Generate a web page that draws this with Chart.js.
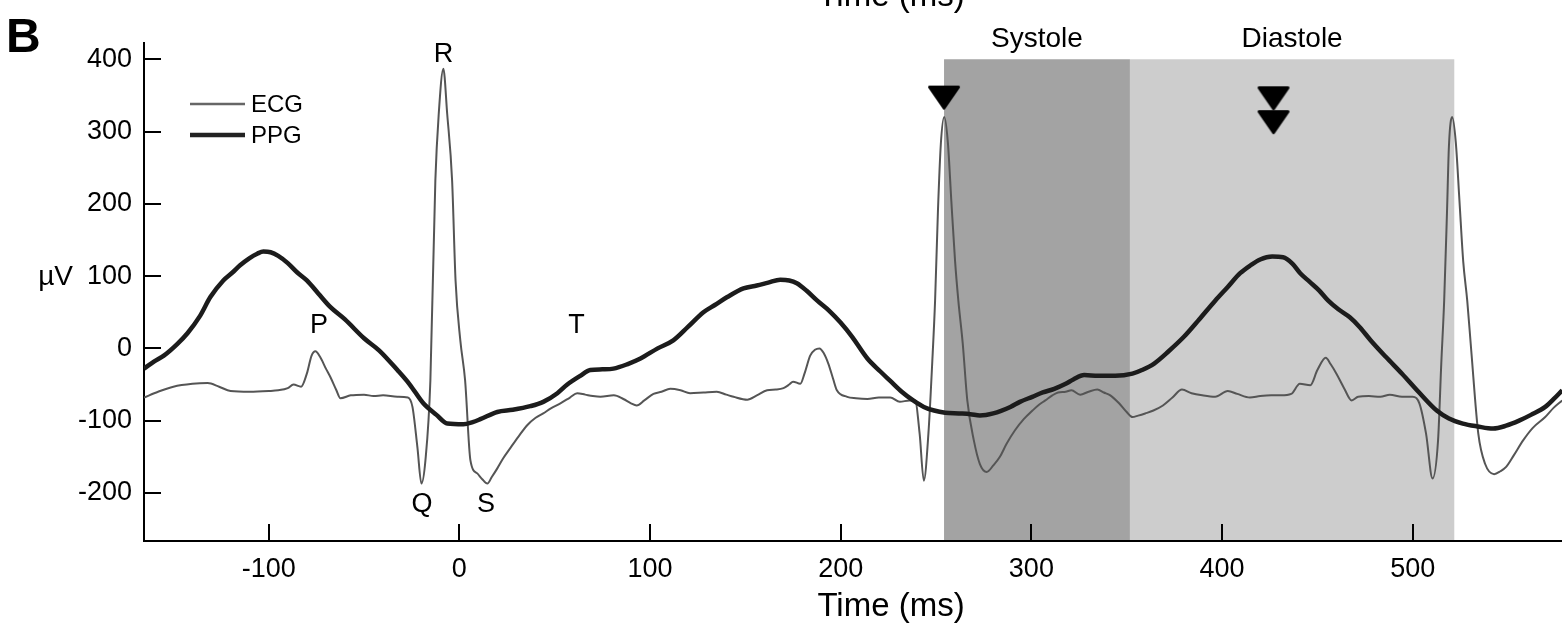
<!DOCTYPE html>
<html>
<head>
<meta charset="utf-8">
<script src="https://cdn.jsdelivr.net/npm/chart.js@4.4.1/dist/chart.umd.min.js"></script>
<style>
  html, body { margin: 0; padding: 0; background: #ffffff; overflow: hidden; }
  #c { display: block; }
</style>
</head>
<body>
<canvas id="c" width="1562" height="625"></canvas>
<script>
// ---------------- data ----------------
const xTicks = [-100, 0, 100, 200, 300, 400, 500];
const yTicks = [-200, -100, 0, 100, 200, 300, 400];

const ecgTime = [-165.4,-158,-150,-140,-132,-126,-120,-110,-100,-95,-90,-87,-83,-80,-77.5,-75.5,-73,-70,-67.6,-64.5,-62.4,-57,-50,-45,-40,-32.5,-27,-24.6,-22,-19.9,-17.8,-15.2,-12.6,-10.8,-8.4,-6.4,-3.8,-2,0.5,3,5.8,9.4,12,14.7,17,19.9,23,26.7,31,35.7,40,44,48,53,58,61.8,66,70,74,81,86,90,93,97,101.8,106,110.6,116,121,128,135,140,143.8,151,156,161.4,166,170,173,175,178.8,181,184,186.5,188.8,191,193.5,196,198,203.4,208,214,220,226,231,236,239,241.4,243.6,246,248,249.5,251,252.5,254.3,256.2,258,260,261.7,264,266.4,269.8,273,276.6,280,283.5,287,291.5,296,300.6,304,307.3,311,314,318,321,325.6,330,334.6,338,341.4,346,350,353,356,359.7,364,369,374,379,384,389.6,396.4,403,408,414.6,420,425.8,431,436.3,440.8,446.3,450,454.4,457,460,464,468,471.4,477,483,488,494.4,500,503.5,507,510.4,513.3,515,516.5,518,519,520.7,522.6,524.5,526.5,528.6,530.7,534.4,538,542.7,546,549,553,558,563,569.5,574,578.4];
const ecgValue = [-68,-60,-53,-49,-48,-53,-59,-60,-59,-58,-55,-50,-53,-35,-10,-4,-12,-28,-40,-58,-69,-65,-64,-66,-65,-67,-68,-81,-137,-187,-155,-44,232,325,387,325,232,94,11,-44,-155,-173,-181,-187,-178,-166,-152,-138,-122,-106,-96,-90,-83,-76,-68,-62,-64,-66,-67,-65,-70,-76,-79,-72,-63,-60,-56,-58,-62,-61,-60,-64,-67,-71,-65,-58,-57,-55,-50,-46,-49,-35,-10,-2,0,-6,-21,-42,-58,-67,-69,-70,-68,-68,-74,-72,-72,-118,-183,-118,-20,66,190,282,320,285,205,120,66,7,-72,-127,-160,-171,-162,-150,-132,-113,-98,-86,-78,-72,-65,-61,-60,-58,-64,-60,-57,-61,-65,-76,-88,-95,-93,-90,-86,-79,-68,-57,-62,-65,-67,-59,-63,-68,-66,-65,-65,-63,-49,-51,-30,-13,-22,-35,-55,-72,-67,-66,-67,-64,-67,-67,-76,-118,-180,-127,-20,66,190,280,320,285,205,120,66,-3,-118,-160,-174,-170,-164,-148,-127,-110,-95,-82,-72];

const ppgTime = [-165.4,-160,-155,-148,-142.6,-136,-130.6,-123.8,-119,-115,-110,-106,-102.8,-99,-95,-90,-85,-80,-74,-67.6,-60,-50,-42,-32.5,-26,-18.9,-12,-6.3,2.1,7,11,19.9,28,37.2,44,51.4,56.6,63.4,68.7,75,80.8,88,95,104,112.2,120,128,134,140.5,149,156,162,168.3,173,177,182,187.7,194,199.8,206,214,220.8,226,232,238,243.6,249,254.8,262,268,273,280,289,294,300.5,306,312,318,322,327.7,335,344,353,358,364.4,372,380,388,396.4,403,409.5,415,420,426.3,432,437,441,446,451,455.7,461,467,472,478,486,494.4,503,512.6,519,526.3,534,542.2,549,555.8,562,569.5,574,578.4];
const ppgValue = [-28,-18,-10,6,21,45,71,94,105,115,125,131,134,133,128,118,105,94,76,57,40,14,-3,-30,-50,-76,-92,-104,-105,-102,-98,-88,-85,-80,-74,-62,-50,-38,-30,-29,-28,-22,-14,0,11,30,50,60,71,83,87,91,95,94,90,80,66,52,36,16,-14,-32,-45,-60,-72,-81,-86,-89,-90,-91,-93,-90,-81,-74,-67,-61,-56,-49,-43,-37,-38,-38,-35,-30,-21,-4,16,40,66,85,104,115,123,127,126,117,104,92,80,66,54,43,30,11,-12,-35,-60,-86,-97,-104,-108,-111,-107,-100,-92,-81,-70,-58];

const markerTime  = [254.2, 427, 427];
const markerValue = [347, 346, 313];

const phaseNames = ['Systole', 'Diastole'];
const phaseStart = [254.2, 351.7];
const phaseEnd   = [351.7, 521.8];
const phaseTop   = 400;

const waveLabels = ['P', 'Q', 'R', 'S', 'T'];
const waveTime   = [-73.6, -19.6, -8.3, 14, 61.4];
const waveValue  = [35.8, -213, 409.4, -213, 35.8];

// ---------------- styles ----------------
const FONT = '"Liberation Sans", Arial, Helvetica, sans-serif';
const ECG_COLOR = '#555555';
const PPG_COLOR = '#1c1c1c';
const PHASE_COLORS = ['#a3a3a3', '#cdcdcd'];

// triangle marker image
const tri = document.createElement('canvas');
tri.width = 34; tri.height = 26;
(function () {
  const g = tri.getContext('2d');
  g.fillStyle = '#000'; g.strokeStyle = '#000';
  g.lineWidth = 3; g.lineJoin = 'round';
  g.beginPath();
  g.moveTo(2.5, 2.5); g.lineTo(31.5, 2.5); g.lineTo(17, 23.5); g.closePath();
  g.fill(); g.stroke();
})();

const overlay = {
  id: 'overlay',
  beforeDatasetsDraw(chart) {
    const { ctx, chartArea } = chart;
    const xs = chart.scales.x, ys = chart.scales.y;
    ctx.save();
    for (let i = 0; i < phaseNames.length; i++) {
      const x0 = xs.getPixelForValue(phaseStart[i]);
      const x1 = xs.getPixelForValue(phaseEnd[i]);
      const y0 = ys.getPixelForValue(phaseTop);
      ctx.fillStyle = PHASE_COLORS[i];
      ctx.fillRect(x0, y0, x1 - x0, chartArea.bottom - 1 - y0);
    }
    ctx.restore();
  },
  afterDraw(chart) {
    const { ctx, chartArea } = chart;
    const xs = chart.scales.x, ys = chart.scales.y;
    ctx.save();
    // inward ticks
    ctx.strokeStyle = '#000'; ctx.lineWidth = 2;
    xTicks.forEach(v => {
      const px = Math.round(xs.getPixelForValue(v));
      ctx.beginPath(); ctx.moveTo(px, chartArea.bottom); ctx.lineTo(px, chartArea.bottom - 17); ctx.stroke();
    });
    yTicks.forEach(v => {
      const py = Math.round(ys.getPixelForValue(v));
      ctx.beginPath(); ctx.moveTo(chartArea.left, py); ctx.lineTo(chartArea.left + 17, py); ctx.stroke();
    });
    ctx.fillStyle = '#000';
    // phase names
    ctx.font = '28px ' + FONT; ctx.textAlign = 'center'; ctx.textBaseline = 'alphabetic';
    for (let i = 0; i < phaseNames.length; i++) {
      const cx = (xs.getPixelForValue(phaseStart[i]) + xs.getPixelForValue(phaseEnd[i])) / 2;
      ctx.fillText(phaseNames[i], cx, 47);
    }
    // wave labels
    ctx.font = '27px ' + FONT;
    for (let i = 0; i < waveLabels.length; i++) {
      ctx.fillText(waveLabels[i], xs.getPixelForValue(waveTime[i]), ys.getPixelForValue(waveValue[i]) + 10);
    }
    // y unit
    ctx.font = '28px ' + FONT;
    ctx.textAlign = 'right'; ctx.textBaseline = 'middle';
    ctx.fillText('\u00B5V', 73, ys.getPixelForValue(100) + 1);
    // legend
    ctx.lineCap = 'butt';
    ctx.strokeStyle = '#666666'; ctx.lineWidth = 2.5;
    ctx.beginPath(); ctx.moveTo(190, 104); ctx.lineTo(245, 104); ctx.stroke();
    ctx.strokeStyle = '#222222'; ctx.lineWidth = 4.5;
    ctx.beginPath(); ctx.moveTo(190, 135); ctx.lineTo(245, 135); ctx.stroke();
    ctx.font = '24px ' + FONT; ctx.textAlign = 'left'; ctx.textBaseline = 'middle';
    ctx.fillText('ECG', 251, 105);
    ctx.fillText('PPG', 251, 136);
    // panel letter
    ctx.font = 'bold 48px ' + FONT; ctx.textBaseline = 'alphabetic';
    ctx.fillText('B', 6, 52);
    // axis titles (bottom + cut-off one from panel above)
    ctx.font = '33px ' + FONT; ctx.textAlign = 'center';
    ctx.fillText('Time (ms)', 891, 616);
    ctx.fillText('Time (ms)', 891, 6);
    ctx.restore();
  }
};

const tickFont = { family: FONT, size: 27 };

new Chart(document.getElementById('c'), {
  type: 'line',
  data: {
    datasets: [
      {
        label: 'markers',
        data: markerTime.map((t, i) => ({ x: t, y: markerValue[i] })),
        showLine: false, pointStyle: tri, pointRadius: 17,
        order: 0
      },
      {
        label: 'PPG',
        data: ppgTime.map((t, i) => ({ x: t, y: ppgValue[i] })),
        borderColor: PPG_COLOR, borderWidth: 4.5, pointRadius: 0,
        cubicInterpolationMode: 'monotone', fill: false, order: 1
      },
      {
        label: 'ECG',
        data: ecgTime.map((t, i) => ({ x: t, y: ecgValue[i] })),
        borderColor: ECG_COLOR, borderWidth: 2, pointRadius: 0,
        cubicInterpolationMode: 'monotone', fill: false, order: 2
      }
    ]
  },
  options: {
    responsive: false,
    animation: false,
    devicePixelRatio: 1,
    layout: { autoPadding: false, padding: { top: 43, right: 0, bottom: 0, left: 0 } },
    plugins: { legend: { display: false }, tooltip: { enabled: false } },
    scales: {
      x: {
        type: 'linear', min: -165.4, max: 578.3,
        afterBuildTicks(s) { s.ticks = xTicks.map(v => ({ value: v })); },
        afterFit(s) { s.height = 84; s.paddingLeft = 0; s.paddingRight = 0; },
        grid: { display: false, drawTicks: false },
        border: { display: true, color: '#000', width: 2 },
        ticks: { font: tickFont, color: '#000', padding: 12, maxRotation: 0, autoSkip: false }
      },
      y: {
        type: 'linear', min: -266.5, max: 422.5,
        afterBuildTicks(s) { s.ticks = yTicks.map(v => ({ value: v })); },
        afterFit(s) { s.width = 144; s.paddingTop = 0; s.paddingBottom = 0; },
        grid: { display: false, drawTicks: false },
        border: { display: true, color: '#000', width: 2 },
        ticks: { font: tickFont, color: '#000', padding: 12, autoSkip: false }
      }
    }
  },
  plugins: [overlay]
});
</script>
</body>
</html>
